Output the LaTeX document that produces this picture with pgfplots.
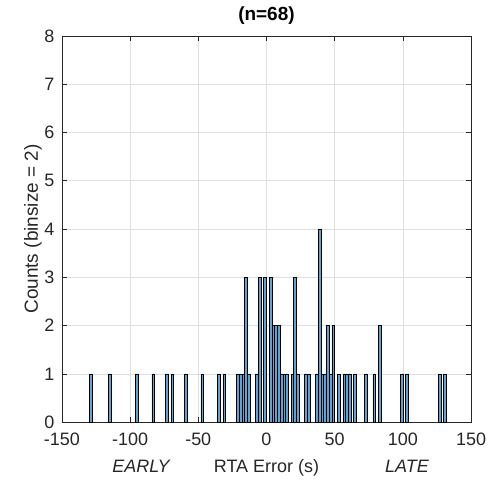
\documentclass[border=0pt]{standalone}
\usepackage{fontspec}
\setmainfont{Liberation Sans}
\usepackage{pgfplots}
\pgfplotsset{compat=1.18}
\definecolor{barblue}{RGB}{96,164,212}
\definecolor{axgray}{RGB}{38,38,38}
\definecolor{gridgray}{RGB}{223,223,223}
\begin{document}
\begin{tikzpicture}
\begin{axis}[
 name=ax,
 scale only axis, width=410pt, height=387pt,
 xmin=-150, xmax=150, ymin=0, ymax=8,
 xtick={-150,-100,...,150}, ytick={0,1,...,8},
 tick align=inside, tick pos=both,
 major tick length=5pt,
 grid=major, major grid style={gridgray, line width=0.6pt},
 axis line style={axgray, line width=0.6pt},
 every tick/.style={axgray, line width=0.6pt},
 tick label style={font=\fontsize{18}{21}\selectfont, text=axgray},
 /pgf/number format/assume math mode=true,
 xticklabel style={yshift=-7pt},
 yticklabel style={xshift=-4pt},
 title={\textbf{(n=68)}},
 title style={font=\fontsize{19}{22}\selectfont, at={(rel axis cs:0.5,1)}, anchor=base, yshift=9pt},
 xlabel={RTA Error (s)}, ylabel={Counts (binsize = 2)},
 label style={font=\fontsize{18}{21}\selectfont, text=axgray},
 xlabel style={name=xl, at={(rel axis cs:0.5,0)}, anchor=base, yshift=-50pt},
 ylabel style={font=\fontsize{19}{22}\selectfont, at={(rel axis cs:0,0.5)}, anchor=base, yshift=24pt},
]
\addplot[ybar, bar width=2, bar shift=0pt, fill=barblue, draw=black, line width=0.6pt] coordinates {
(-129,1) (-115,1) (-95,1) (-83,1) (-73,1) (-69,1) (-59,1) (-47,1)
(-35,1) (-31,1)
(-21,1) (-19,1) (-17,1) (-15,3) (-13,1)
(-7,1) (-5,3) (-1,3) (3,3)
(5,2) (7,2) (9,2)
(11,1) (13,1) (15,1)
(19,1) (21,3) (23,1)
(29,1) (31,1)
(37,1) (39,4) (41,1) (43,1) (45,2) (47,1) (49,2)
(53,1) (57,1) (59,1) (61,1) (65,1) (73,1) (79,1)
(83,2)
(99,1) (103,1)
(127,1) (131,1)
};
\coordinate (e) at (axis cs:-92,0);
\coordinate (l) at (axis cs:103,0);
\end{axis}
\node[anchor=base, font=\fontsize{18}{21}\selectfont\itshape, text=axgray] at (e |- xl.base) {EARLY};
\node[anchor=base, font=\fontsize{18}{21}\selectfont\itshape, text=axgray] at (l |- xl.base) {LATE};
\pgfresetboundingbox
\path (ax.south west) ++(-62pt,-59pt) coordinate (bl);
\path (ax.north east) ++(18pt,36pt) coordinate (tr);
\path (bl) rectangle (tr);
\end{tikzpicture}
\end{document}
